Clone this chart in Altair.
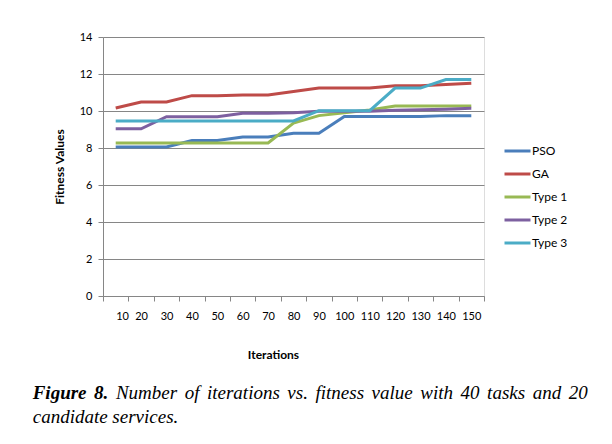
import altair as alt
import pandas as pd

iterations = [10, 20, 30, 40, 50, 60, 70, 80, 90, 100, 110, 120, 130, 140, 150]
pso   = [8.05, 8.05, 8.05, 8.4, 8.4, 8.6, 8.6, 8.8, 8.8, 9.7, 9.7, 9.7, 9.7, 9.75, 9.75]
ga    = [10.16, 10.49, 10.49, 10.83, 10.83, 10.87, 10.87, 11.05, 11.24, 11.24, 11.24, 11.36, 11.36, 11.43, 11.5]
type1 = [8.27, 8.27, 8.27, 8.27, 8.27, 8.27, 8.27, 9.35, 9.75, 9.9, 10.05, 10.27, 10.27, 10.27, 10.27]
type2 = [9.04, 9.04, 9.69, 9.69, 9.69, 9.88, 9.88, 9.9, 9.98, 9.98, 9.98, 10.04, 10.07, 10.1, 10.15]
type3 = [9.46, 9.46, 9.46, 9.46, 9.46, 9.46, 9.46, 9.46, 10.02, 10.02, 10.02, 11.24, 11.24, 11.7, 11.7]

series_names = ["PSO", "GA", "Type 1", "Type 2", "Type 3"]
series_colors = ["#4A7EBB", "#BE4B48", "#98B954", "#7D60A0", "#4BACC6"]
y_ticks = [0, 2, 4, 6, 8, 10, 12, 14]
x_tick_edges = [5, 15, 25, 35, 45, 55, 65, 75, 85, 95, 105, 115, 125, 135, 145, 155]

caption_bold = ["Figure", "8."]
caption_rest = ["Number", "of", "iterations", "vs.", "fitness", "value", "with",
                "40", "tasks", "and", "20"]
caption_line2 = "candidate services."

rows = []
for name, vals in zip(series_names, [pso, ga, type1, type2, type3]):
    for it, v in zip(iterations, vals):
        rows.append({"Iterations": it, "Fitness": v, "Series": name})
df = pd.DataFrame(rows)

W, H = 381, 259
FONT = "Lato"

lines = alt.Chart(df).mark_line(strokeWidth=3).encode(
    x=alt.X("Iterations:Q",
            scale=alt.Scale(domain=[5, 155], nice=False, zero=False),
            axis=alt.Axis(values=x_tick_edges, grid=False, tickSize=5,
                          labelExpr="datum.value >= 155 ? '' : '' + (datum.value + 5)",
                          labelOffset=12.7, labelPadding=9, labelFontSize=11,
                          labelFont=FONT, labelColor="#000000",
                          domainColor="#868686", tickColor="#868686",
                          title="Iterations", titleFont=FONT, titleFontSize=12,
                          titleFontWeight="bold", titleX=170, titleY=58,
                          titleBaseline="middle", titleAlign="center")),
    y=alt.Y("Fitness:Q",
            scale=alt.Scale(domain=[0, 14], nice=False),
            axis=alt.Axis(values=y_ticks, grid=True, gridColor="#868686",
                          tickSize=5, labelPadding=6, labelFontSize=11,
                          labelFont=FONT, labelColor="#000000",
                          domainColor="#868686", tickColor="#868686",
                          title="Fitness Values", titleFont=FONT, titleFontSize=12,
                          titleFontWeight="bold", titleX=-44, titleY=129.5,
                          titleAngle=270, titleBaseline="middle", titleAlign="center")),
    color=alt.Color("Series:N",
                    scale=alt.Scale(domain=series_names, range=series_colors),
                    sort=series_names,
                    legend=alt.Legend(title=None, orient="none", legendX=400, legendY=99.5,
                                      symbolType="stroke", symbolSize=676,
                                      symbolStrokeWidth=3, labelOffset=0,
                                      rowPadding=2, labelFont=FONT, labelFontSize=12,
                                      labelColor="#000000", padding=0)),
)

# --- justified caption layout (Times-compatible glyph advance widths, per 1000 em)
ITALIC = {" ": 250, ".": 250, "0": 500, "2": 500, "4": 500, "N": 667, "a": 500,
          "b": 500, "c": 444, "d": 500, "e": 444, "f": 278, "h": 500, "i": 278,
          "k": 444, "l": 278, "m": 722, "n": 500, "o": 500, "r": 389, "s": 389,
          "t": 278, "u": 500, "v": 444, "w": 667}
BOLD_ITALIC = {"F": 667, "i": 278, "g": 500, "u": 556, "r": 389, "e": 444,
               "8": 500, ".": 250}
FS = 19
LEFT, RIGHT = 33, 588
BASE1, BASE2 = 399, 423


def text_width(s, table):
    return sum(table.get(ch, 500) for ch in s) * FS / 1000.0


words = [(w, "bold", text_width(w, BOLD_ITALIC)) for w in caption_bold] + \
        [(w, "normal", text_width(w, ITALIC)) for w in caption_rest]
gap = (RIGHT - LEFT - sum(w[2] for w in words)) / (len(words) - 1)

layers = [lines]
xpos = LEFT
for word, weight, wdt in words:
    layers.append(
        alt.Chart(pd.DataFrame({"t": [word]})).mark_text(
            align="left", baseline="alphabetic", font="Liberation Serif",
            fontSize=FS, fontStyle="italic", fontWeight=weight, color="#000000"
        ).encode(x=alt.value(xpos - 103.3), y=alt.value(BASE1 - 37.3), text="t:N")
    )
    xpos += wdt + gap

layers.append(
    alt.Chart(pd.DataFrame({"t": [caption_line2]})).mark_text(
        align="left", baseline="alphabetic", font="Liberation Serif",
        fontSize=FS, fontStyle="italic", color="#000000"
    ).encode(x=alt.value(LEFT - 103.3), y=alt.value(BASE2 - 37.3), text="t:N")
)

chart = alt.layer(*layers).properties(
    width=W, height=H,
    autosize=alt.AutoSizeParams(type="none"),
    padding={"left": 95, "top": 29, "right": 120, "bottom": 140},
).configure_view(stroke=None).configure(background="#ffffff")

chart.save("out.html", embed_options={"renderer": "svg", "actions": False})
